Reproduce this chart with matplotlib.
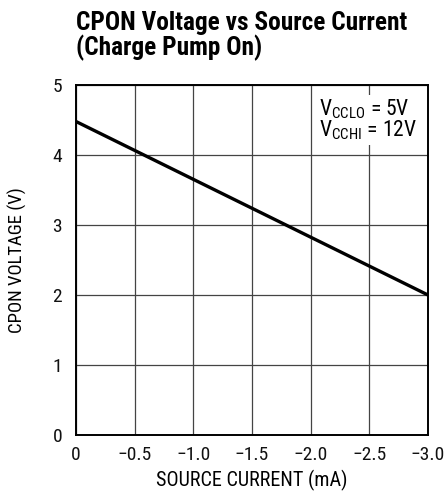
import matplotlib
matplotlib.use("Agg")
import matplotlib.pyplot as plt
from matplotlib import font_manager

# condensed sans, closest to the reference's typeface
names = {f.name for f in font_manager.fontManager.ttflist}
fam = 'DejaVu Sans'
for cand in ['Roboto Condensed', 'Archivo Narrow', 'Liberation Sans Narrow', 'Barlow Condensed']:
    if cand in names:
        fam = cand
        break
plt.rcParams['font.family'] = [fam, 'DejaVu Sans']
plt.rcParams['mathtext.fontset'] = 'custom'
plt.rcParams['mathtext.rm'] = fam

# data
current = [0.0, -3.0]
voltage = [4.48, 2.0]
xticks = [0, -0.5, -1.0, -1.5, -2.0, -2.5, -3.0]
xtick_labels = ['0', '\u22120.5', '\u22121.0', '\u22121.5', '\u22122.0', '\u22122.5', '\u22123.0']
yticks = [0, 1, 2, 3, 4, 5]

fig = plt.figure(figsize=(4.47, 4.92), dpi=100)
ax = fig.add_axes([0.170, 0.116, 0.7875, 0.711])

ax.plot(current, voltage, color='black', lw=2.4, solid_capstyle='butt', zorder=3)

ax.set_xlim(0, -3.0)
ax.set_ylim(0, 5)
ax.set_xticks(xticks)
ax.set_xticklabels(xtick_labels)
ax.set_yticks(yticks)
ax.tick_params(length=0, labelsize=14, colors='#111111')
ax.tick_params(axis='x', pad=8)
ax.tick_params(axis='y', pad=10)
ax.grid(True, color='#444444', lw=0.9)
ax.set_axisbelow(True)
for s in ax.spines.values():
    s.set_linewidth(1.4)

ax.set_xlabel('SOURCE CURRENT (mA)', fontsize=14.5, labelpad=4)
ax.set_ylabel('CPON VOLTAGE (V)', fontsize=13.5, labelpad=18)

ax.text(0.69, 0.965, '$\\mathregular{V_{CCLO}}$ = 5V\n$\\mathregular{V_{CCHI}}$ = 12V',
        transform=ax.transAxes, fontsize=15.5, va='top', ha='left', linespacing=0.85,
        bbox=dict(facecolor='white', edgecolor='none', pad=2), zorder=4)

fig.text(0.170, 0.978, 'CPON Voltage vs Source Current\n(Charge Pump On)',
         fontsize=18.3, fontweight='bold', va='top', ha='left', linespacing=1.0)

fig.savefig('out.png', dpi=100)
